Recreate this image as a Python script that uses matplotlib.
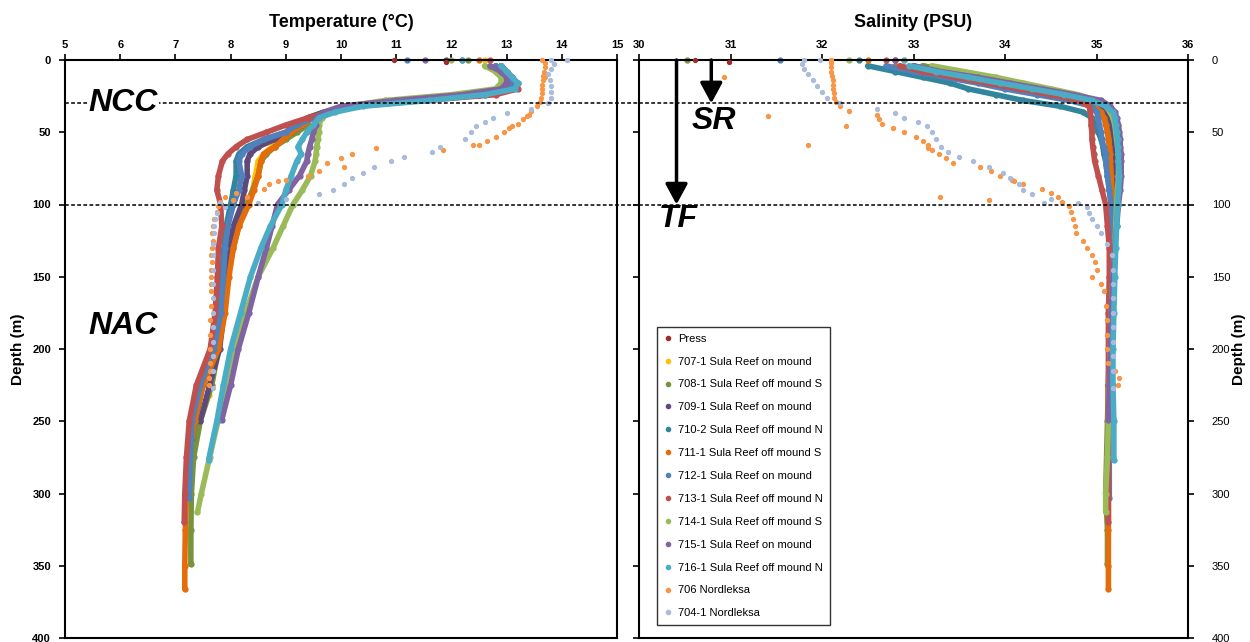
import matplotlib
matplotlib.use('Agg')
import matplotlib.pyplot as plt
from matplotlib.lines import Line2D

plt.rcParams['font.family'] = ['Liberation Sans', 'DejaVu Sans']
narrow = ['Liberation Sans Narrow', 'Liberation Sans', 'DejaVu Sans']

# ---------------- data ----------------
grid = [0, 4, 8, 12, 16, 20, 24, 28, 32, 36, 40, 45, 50, 55, 60, 65, 70, 80, 90,
        100, 115, 130, 150, 175, 200, 225, 250, 275, 300]

# Press (only a couple of surface readings)
d_press = [0, 1.6]
t_press = [10.96, 11.9]
s_press = [30.61, 30.98]

# 707-1 Sula Reef on mound
d_707 = grid[:26] + [232]
t_707 = [12.6, 12.9, 13.0, 13.0, 13.1, 13.0, 12.5, 11.2, 10.1, 9.7, 9.4,
         9.3, 9.1, 8.9, 8.75, 8.6, 8.5, 8.45, 8.4, 8.28, 8.12, 8.0, 7.95, 7.88, 7.78, 7.62, 7.6]
s_707 = [32.9, 33.1, 33.4, 33.7, 34.0, 34.35, 34.7, 34.95, 35.05, 35.1, 35.12,
         35.13, 35.14, 35.15, 35.15, 35.16, 35.16, 35.17, 35.18, 35.18, 35.18, 35.17, 35.16,
         35.15, 35.15, 35.14, 35.14]

# 708-1 Sula Reef off mound S
d_708 = grid + [325, 349]
t_708 = [12.3, 12.8, 12.9, 13.0, 13.0, 12.9, 12.3, 11.2, 10.2, 9.7, 9.4,
         9.4, 9.2, 9.0, 8.8, 8.65, 8.55, 8.5, 8.4, 8.3, 8.15, 8.05, 7.95, 7.88, 7.78, 7.66,
         7.45, 7.33, 7.29, 7.28, 7.28]
s_708 = [30.53, 33.1, 33.45, 33.8, 34.1, 34.4, 34.7, 34.95, 35.05, 35.1, 35.12,
         35.13, 35.15, 35.16, 35.17, 35.18, 35.19, 35.2, 35.2, 35.19, 35.18, 35.17, 35.16,
         35.15, 35.14, 35.13, 35.12, 35.11, 35.1, 35.12, 35.12]

# 709-1 Sula Reef on mound
d_709 = grid[:27]
t_709 = [11.9, 12.9, 13.0, 13.0, 13.1, 13.0, 12.5, 11.3, 10.2, 9.7, 9.4,
         9.3, 9.1, 8.8, 8.5, 8.35, 8.3, 8.3, 8.25, 8.2, 8.05, 7.98, 7.93, 7.88, 7.8, 7.62, 7.45]
s_709 = [32.8, 33.0, 33.2, 33.55, 33.9, 34.25, 34.6, 34.9, 35.05, 35.12, 35.15,
         35.17, 35.18, 35.2, 35.2, 35.21, 35.21, 35.22, 35.22, 35.21, 35.2, 35.19, 35.17,
         35.15, 35.14, 35.14, 35.13]

# 710-2 Sula Reef off mound N
d_710 = grid[:27] + [262]
t_710 = [12.2, 12.9, 13.0, 13.1, 13.1, 13.0, 12.6, 11.4, 10.3, 9.8, 9.45,
         9.2, 9.0, 8.6, 8.3, 8.15, 8.1, 8.1, 8.05, 8.0, 7.92, 7.88, 7.84, 7.8, 7.7, 7.5, 7.36, 7.3]
s_710 = [32.4, 32.5, 32.8, 33.1, 33.4, 33.6, 33.9, 34.2, 34.6, 34.85, 34.95,
         34.98, 35.02, 35.05, 35.07, 35.08, 35.1, 35.12, 35.14, 35.16, 35.17, 35.17, 35.16,
         35.15, 35.15, 35.14, 35.14, 35.14]

# 711-1 Sula Reef off mound S
d_711 = grid + [325, 350, 366]
t_711 = [12.5, 12.9, 13.0, 13.0, 13.1, 13.1, 12.6, 11.3, 10.2, 9.8, 9.5,
         9.3, 9.1, 8.95, 8.8, 8.6, 8.55, 8.5, 8.42, 8.33, 8.15, 8.05, 7.97, 7.9, 7.78, 7.5,
         7.35, 7.24, 7.2, 7.18, 7.17, 7.17]
s_711 = [32.5, 32.8, 33.1, 33.4, 33.75, 34.1, 34.45, 34.75, 34.97, 35.05, 35.08,
         35.1, 35.12, 35.13, 35.14, 35.15, 35.15, 35.16, 35.17, 35.17, 35.17, 35.16, 35.15,
         35.14, 35.14, 35.13, 35.13, 35.13, 35.13, 35.13, 35.13, 35.13]

# 712-1 Sula Reef on mound
d_712 = grid[:28] + [303]
t_712 = [11.19, 12.8, 12.9, 13.0, 13.1, 13.1, 12.4, 11.2, 10.2, 9.8, 9.5,
         9.2, 9.0, 8.6, 8.35, 8.2, 8.15, 8.2, 8.15, 8.05, 7.95, 7.9, 7.87, 7.82, 7.7, 7.45,
         7.3, 7.27, 7.25]
s_712 = [31.54, 32.7, 33.0, 33.35, 33.7, 34.0, 34.35, 34.7, 34.95, 35.0, 35.02,
         35.03, 35.05, 35.06, 35.08, 35.1, 35.1, 35.12, 35.14, 35.16, 35.16, 35.17, 35.16,
         35.15, 35.15, 35.14, 35.14, 35.14, 35.14]

# 713-1 Sula Reef off mound N
d_713 = grid + [320]
t_713 = [12.7, 12.9, 13.0, 13.1, 13.2, 13.2, 12.8, 11.5, 10.3, 9.8, 9.4,
         9.0, 8.65, 8.3, 8.1, 7.95, 7.85, 7.78, 7.75, 7.82, 7.84, 7.78, 7.76, 7.72, 7.63, 7.38,
         7.25, 7.2, 7.17, 7.16]
s_713 = [32.7, 32.85, 33.1, 33.45, 33.8, 34.15, 34.5, 34.8, 34.92, 34.93, 34.94,
         34.94, 34.95, 34.95, 34.96, 34.97, 34.98, 35.02, 35.06, 35.1, 35.12, 35.14, 35.14,
         35.13, 35.13, 35.13, 35.13, 35.13, 35.13, 35.13]

# 714-1 Sula Reef off mound S
d_714 = grid + [313]
t_714 = [12.0, 12.6, 12.8, 12.9, 12.9, 12.8, 12.0, 10.8, 10.1, 9.8, 9.65,
         9.6, 9.6, 9.58, 9.56, 9.55, 9.53, 9.45, 9.3, 9.13, 8.95, 8.77, 8.5, 8.27, 8.05, 7.9,
         7.77, 7.62, 7.47, 7.4]
s_714 = [32.3, 33.2, 33.55, 33.9, 34.2, 34.5, 34.8, 35.0, 35.1, 35.15, 35.18,
         35.2, 35.21, 35.22, 35.23, 35.24, 35.24, 35.24, 35.23, 35.22, 35.21, 35.2, 35.18,
         35.16, 35.15, 35.14, 35.13, 35.12, 35.1, 35.1]

# 715-1 Sula Reef on mound
d_715 = grid[:26] + [249]
t_715 = [11.52, 12.7, 12.9, 13.0, 13.0, 12.9, 12.2, 11.0, 10.0, 9.7, 9.55,
         9.55, 9.5, 9.47, 9.43, 9.4, 9.38, 9.25, 9.05, 8.85, 8.75, 8.65, 8.5, 8.33, 8.14, 8.0, 7.84]
s_715 = [32.8, 33.0, 33.3, 33.7, 34.05, 34.4, 34.75, 35.05, 35.15, 35.2, 35.22,
         35.24, 35.25, 35.26, 35.26, 35.27, 35.27, 35.27, 35.26, 35.24, 35.22, 35.2, 35.18,
         35.16, 35.15, 35.14, 35.13]

# 716-1 Sula Reef off mound N
d_716 = grid[:27] + [277]
t_716 = [12.2, 12.9, 13.0, 13.1, 13.2, 13.15, 12.6, 11.6, 10.4, 9.9, 9.6,
         9.5, 9.38, 9.3, 9.22, 9.28, 9.2, 9.1, 9.0, 8.93, 8.72, 8.55, 8.36, 8.18, 8.0, 7.87,
         7.75, 7.6]
s_716 = [32.9, 32.95, 33.25, 33.6, 33.95, 34.3, 34.65, 34.95, 35.1, 35.18, 35.2,
         35.21, 35.22, 35.23, 35.23, 35.24, 35.24, 35.25, 35.24, 35.23, 35.22, 35.21, 35.2,
         35.19, 35.18, 35.18, 35.19, 35.19]

# 706 Nordleksa (coarse cast, scattered points)
d_706 = [0, 2, 5, 8, 11, 14, 17, 20, 23, 26, 29, 32, 35, 38, 41, 44, 47, 50, 53, 56,
         59, 62, 65, 68, 71, 74, 77, 80, 83, 86, 89, 92, 95, 98, 101, 105, 110, 115, 120,
         125, 130, 135, 140, 145, 150, 155, 160, 170, 180, 190, 200, 210, 215, 220, 225,
         12, 39, 46, 59, 61, 84, 95, 97]
t_706 = [13.65, 13.7, 13.7, 13.68, 13.66, 13.66, 13.65, 13.65, 13.64, 13.62, 13.6, 13.55,
         13.45, 13.4, 13.3, 13.2, 13.05, 12.95, 12.8, 12.65, 12.5, 11.85, 10.2, 10.0, 9.75,
         10.05, 9.6, 9.4, 9.0, 8.7, 8.6, 8.1, 7.9, 7.8, 7.78, 7.75, 7.7, 7.68, 7.66, 7.68,
         7.67, 7.65, 7.66, 7.65, 7.64, 7.65, 7.64, 7.64, 7.63, 7.63, 7.62, 7.62, 7.62, 7.61,
         7.61,
         13.7, 13.37, 13.1, 12.4, 10.63, 8.85, 8.3, 8.04]
s_706 = [32.1, 32.1, 32.1, 32.1, 32.11, 32.12, 32.12, 32.12, 32.13, 32.13, 32.15, 32.2,
         32.3, 32.6, 32.62, 32.66, 32.78, 32.9, 33.03, 33.1, 33.16, 33.2, 33.28, 33.35,
         33.43, 33.73, 33.85, 33.95, 34.08, 34.2, 34.4, 34.5, 34.58, 34.62, 34.7, 34.72,
         34.74, 34.76, 34.78, 34.85, 34.9, 34.95, 34.98, 35.0, 34.95, 35.05, 35.08, 35.1,
         35.12, 35.12, 35.12, 35.13, 35.2, 35.25, 35.23,
         30.93, 31.41, 32.26, 31.85, 33.16, 34.1, 33.29, 33.82]

# 704-1 Nordleksa
d_704 = [0, 3, 6, 10, 14, 18, 22, 26, 30, 34, 37, 40, 43, 46, 50, 55, 60, 64, 67, 70,
         74, 78, 82, 86, 90, 93, 96, 99, 102, 106, 110, 115, 120, 127, 135, 145, 155, 165,
         175, 185, 195, 205, 215, 227, 0, 99]
t_704 = [14.1, 13.85, 13.8, 13.75, 13.78, 13.8, 13.8, 13.8, 13.75, 13.45, 13.0, 12.75,
         12.6, 12.45, 12.35, 12.25, 11.8, 11.65, 11.15, 10.9, 10.6, 10.4, 10.2, 10.05, 9.85,
         9.6, 9.0, 8.5, 7.9, 7.75, 7.72, 7.7, 7.7, 7.69, 7.69, 7.68, 7.68, 7.68, 7.68, 7.68,
         7.68, 7.68, 7.68, 7.68, 13.8, 7.8]
s_704 = [31.8, 31.78, 31.8, 31.85, 31.9, 31.95, 32.0, 32.05, 32.2, 32.6, 32.8, 32.9,
         33.05, 33.15, 33.2, 33.25, 33.3, 33.38, 33.5, 33.65, 33.82, 33.98, 34.05, 34.15,
         34.2, 34.3, 34.5, 34.8, 34.9, 34.92, 34.95, 35.0, 35.05, 35.12, 35.17, 35.18, 35.18,
         35.18, 35.18, 35.18, 35.18, 35.18, 35.18, 35.18, 31.98, 34.43]

labels = ['Press', '707-1 Sula Reef on mound', '708-1 Sula Reef off mound S',
          '709-1 Sula Reef on mound', '710-2 Sula Reef off mound N',
          '711-1 Sula Reef off mound S', '712-1 Sula Reef on mound',
          '713-1 Sula Reef off mound N', '714-1 Sula Reef off mound S',
          '715-1 Sula Reef on mound', '716-1 Sula Reef off mound N',
          '706 Nordleksa', '704-1 Nordleksa']
depths = [d_press, d_707, d_708, d_709, d_710, d_711, d_712, d_713, d_714, d_715, d_716, d_706, d_704]
temps = [t_press, t_707, t_708, t_709, t_710, t_711, t_712, t_713, t_714, t_715, t_716, t_706, t_704]
sals = [s_press, s_707, s_708, s_709, s_710, s_711, s_712, s_713, s_714, s_715, s_716, s_706, s_704]
colors = ['#A02B2B', '#FFC000', '#77933C', '#5F497A', '#31859C', '#E46C0A', '#4F81BD',
          '#C0504D', '#9BBB59', '#8064A2', '#4BACC6', '#F79646', '#A9BCDB']
kinds = ['dot'] + ['line'] * 10 + ['dot', 'dot']

# ---------------- figure ----------------
fig = plt.figure(figsize=(12.5, 6.42), dpi=100)
ax1 = fig.add_axes([65 / 1250, 4 / 642, 552 / 1250, 578 / 642])
ax2 = fig.add_axes([639 / 1250, 4 / 642, 549 / 1250, 578 / 642])

for ax, vals in ((ax1, temps), (ax2, sals)):
    for d, v, c, k in zip(depths, vals, colors, kinds):
        if k == 'line':
            ax.plot(v[1:], d[1:], color=c, lw=4, solid_capstyle='round',
                    solid_joinstyle='round', zorder=2, clip_on=False)
            ax.plot(v, d, 'o', color=c, ms=3.5, zorder=2, clip_on=False)
        else:
            ax.plot(v, d, 'o', color=c, ms=2.8, zorder=3, clip_on=False)

# axes formatting
ax1.set_xlim(5, 15)
ax2.set_xlim(30, 36)
for ax in (ax1, ax2):
    ax.set_ylim(400, 0)
    ax.set_yticks(range(0, 401, 50))
    ax.xaxis.tick_top()
    for sp in ax.spines.values():
        sp.set_linewidth(1.5)
    ax.tick_params(axis='both', direction='out', length=4, width=1.2, labelsize=8)
    for lab in ax.get_xticklabels() + ax.get_yticklabels():
        lab.set_fontweight('bold')
ax1.set_xticks(range(5, 16))
ax2.set_xticks(range(30, 37))
ax1.tick_params(axis='y', pad=6)
ax1.tick_params(axis='x', pad=3)
ax2.tick_params(axis='x', pad=3)
ax2.tick_params(axis='y', left=True, right=True, labelleft=False, labelright=True, pad=13)

ax1.set_title('Temperature (°C)', fontsize=13, fontweight='bold', family=narrow, pad=24)
ax2.set_title('Salinity (PSU)', fontsize=13, fontweight='bold', family=narrow, pad=24)
ax1.set_ylabel('Depth (m)', fontsize=11, fontweight='bold', labelpad=5)
ax2.set_ylabel('Depth (m)', fontsize=11, fontweight='bold', labelpad=1)
ax2.yaxis.set_label_position('right')

# water-mass boundaries
dash = (0, (2.5, 1.5))
for depth in (30, 100):
    ax1.axhline(depth, xmin=0, xmax=1.04, color='k', lw=1.1, ls=dash, zorder=5, clip_on=False)
    ax2.axhline(depth, color='k', lw=1.1, ls=dash, zorder=5)

big = dict(fontsize=23, fontweight='bold', fontstyle='italic', family=narrow,
           va='center', ha='left', zorder=6)
ax1.text(5.42, 30, 'NCC', bbox=dict(facecolor='white', edgecolor='none', pad=1), **big)
ax1.text(5.42, 184, 'NAC', **big)
ax2.text(30.58, 42, 'SR', **big)
ax2.text(30.22, 110, 'TF', **big)

arrow = dict(arrowstyle='-|>,head_length=0.5,head_width=0.27', lw=2.5, color='k',
             mutation_scale=25, shrinkA=0, shrinkB=0)
ax2.annotate('', xy=(30.79, 30), xytext=(30.79, 0), arrowprops=arrow, zorder=6)
ax2.annotate('', xy=(30.41, 100), xytext=(30.41, 0), arrowprops=arrow, zorder=6)

# legend
handles = [Line2D([], [], marker='o', ls='none', color=c, ms=3) for c in colors]
leg = ax2.legend(handles, labels, loc='lower left', bbox_to_anchor=(0.033, 0.0225),
                 borderaxespad=0, fontsize=8, labelspacing=1.16, handlelength=0.8,
                 handletextpad=0.5, borderpad=0.6, fancybox=False, framealpha=1,
                 edgecolor='#333333')
leg.get_frame().set_linewidth(1.0)
leg.set_zorder(10)

plt.savefig('out.png', dpi=100)
